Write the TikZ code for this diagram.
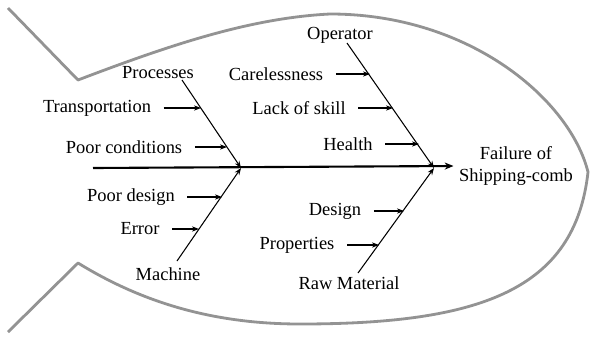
\documentclass[tikz,border=0pt]{standalone}
\usepackage{fontspec}
\setmainfont{Liberation Serif}
\usetikzlibrary{arrows.meta}

\begin{document}
\begin{tikzpicture}[x=0.02cm,y=-0.02cm]
			\tikzset{every node/.style={inner sep=3pt, font=\fontsize{10.5}{13}\selectfont},
			bone/.style={line width=0.6pt, -{Stealth[length=4pt,width=3pt]}},
			sub/.style={line width=0.8pt, -{Stealth[length=4pt,width=3pt]}}}
\useasboundingbox (0,0) rectangle (590,338);

% fish outline
\draw[gray!85, line width=1.6pt, line join=round] (8,8) -- (78,80)
  .. controls (170,45) and (250,18) .. (330,14)
  .. controls (470,14) and (570,100) .. (588,172)
  .. controls (575,290) and (480,324) .. (300,324)
  .. controls (205,324) and (135,298) .. (78,263) -- (8,332);

% spine
\coordinate (tail) at (93,168);
\node[align=center] (fail) at (516,166) {Failure of\\Shipping-comb};
\coordinate (pl) at (241,168);
\coordinate (pr) at (434,168);
\draw[line width=1.2pt, -{Stealth[length=5pt,width=4pt]}] (tail) -- (fail.west);

% bones
\node (proc) at (158,73) {Processes};
\node (mach) at (168,274) {Machine};
\node (oper) at (340,35) {Operator};
\node (raw) at (349,283) {Raw Material};
\coordinate (b1) at (182,80);
\coordinate (b2) at (177,261);
\coordinate (b3) at (347,43);
\coordinate (b4) at (358,273);
\draw[bone] (b1) -- (pl);
\draw[bone] (b2) -- (pl);
\draw[bone] (b3) -- (pr);
\draw[bone] (b4) -- (pr);

% causes
\node (trans) at (97,108) {Transportation};
\node (cond) at (124,147) {Poor conditions};
\node (pdes) at (131,197) {Poor design};
\node (err) at (140,229) {Error};
\node (care) at (276,74) {Carelessness};
\node (lack) at (299,108) {Lack of skill};
\node (heal) at (348,144) {Health};
\node (des) at (335,211) {Design};
\node (prop) at (297,245) {Properties};

\coordinate (c1) at (201,108);
\coordinate (c2) at (227,147);
\coordinate (c3) at (222,197);
\coordinate (c4) at (199,229);
\coordinate (c5) at (370,74);
\coordinate (c6) at (393,108);
\coordinate (c7) at (419,144);
\coordinate (c8) at (404,211);
\coordinate (c9) at (379,245);

\foreach \from/\to in {trans/c1,cond/c2,pdes/c3,err/c4,care/c5,lack/c6,heal/c7,des/c8,prop/c9}
{
	\draw[sub] ([xshift=4pt]\from.east) -- (\to);
}

		\end{tikzpicture}
\end{document}
